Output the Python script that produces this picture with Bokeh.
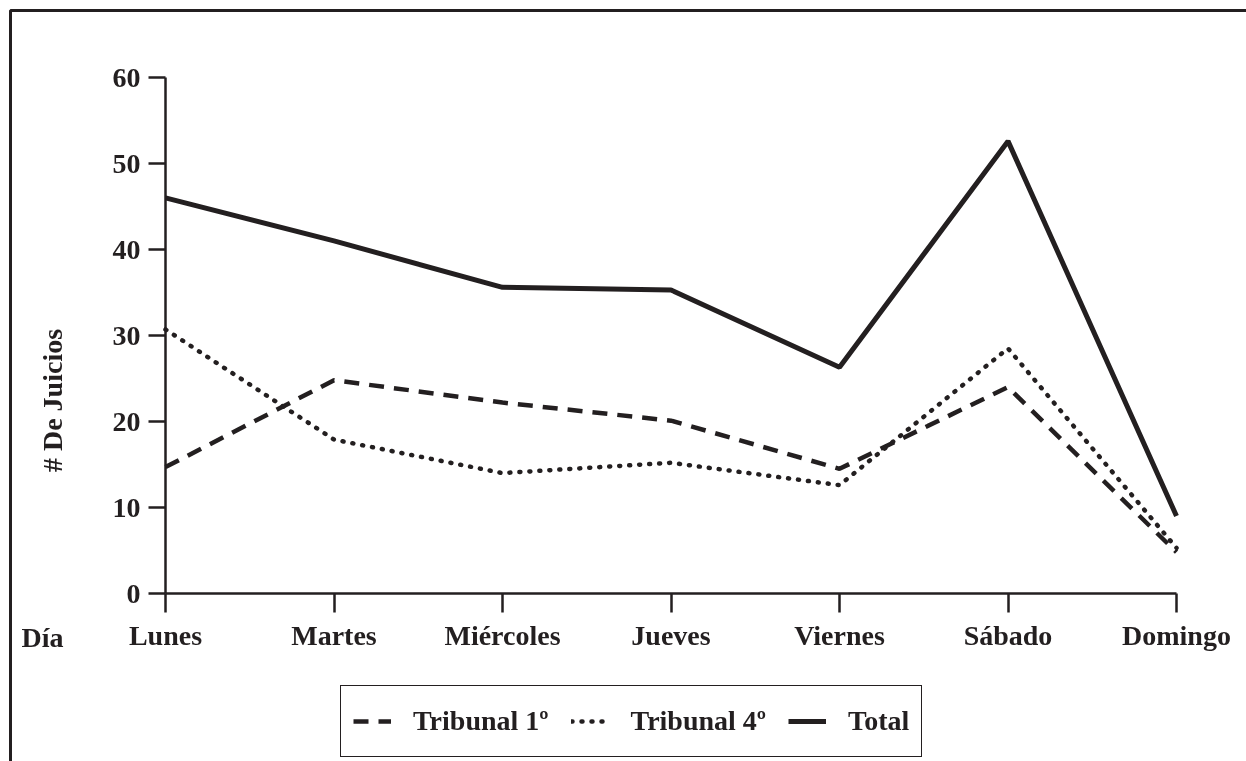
import math
from bokeh.plotting import figure
from bokeh.models import Range1d, FixedTicker, Legend, LegendItem, Label
from bokeh.embed import file_html
from bokeh.resources import INLINE

dias = ["Lunes", "Martes", "Miércoles", "Jueves", "Viernes", "Sábado", "Domingo"]
tribunal_1 = [14.7, 24.8, 22.2, 20.1, 14.5, 24.0, 4.8]
tribunal_4 = [30.7, 17.9, 14.0, 15.2, 12.6, 28.5, 5.3]
total = [46.0, 41.0, 35.6, 35.3, 26.3, 52.6, 9.0]
y_ticks = [0, 10, 20, 30, 40, 50, 60]

INK = "#231f20"
FONT = "Liberation Serif"
FS = "28px"

# ---- layout (page pixels) ----
FRAME_L, FRAME_T, FRAME_R, FRAME_B = 10, 10, 1256, 771   # outer box, right/bottom off-page
X0_PX, X6_PX = 165, 1176      # where day 0 and day 6 sit
Y0_PX, Y60_PX = 593, 77       # where 0 and 60 sit
MB_L, MB_T, MB_B = 100, 40, 100

xs = list(range(len(dias)))
n = len(dias) - 1
ppx = (X6_PX - X0_PX) / n
ppy = (Y0_PX - Y60_PX) / 60.0
x_start = -(X0_PX - FRAME_L) / ppx
x_end = n + (FRAME_R - X6_PX) / ppx
y_start = -(FRAME_B - Y0_PX) / ppy
y_end = 60 + (Y60_PX - FRAME_T) / ppy

FW = FRAME_R - FRAME_L
FH = FRAME_B - FRAME_T

p = figure(width=MB_L + FW, height=MB_T + FH + MB_B, output_backend="svg",
           toolbar_location=None,
           x_range=Range1d(x_start, x_end), y_range=Range1d(y_start, y_end),
           min_border_left=MB_L, min_border_top=MB_T, min_border_right=0,
           min_border_bottom=MB_B)
p.title.visible = False
p.grid.visible = False
p.background_fill_color = "white"
p.border_fill_color = "white"
p.outline_line_color = INK
p.outline_line_width = 3
p.styles = {"position": "fixed", "left": f"{FRAME_L - MB_L}px",
            "top": f"{FRAME_T - MB_T}px"}

r_t1 = p.line(xs, tribunal_1, line_color=INK, line_width=4.5, line_dash="15 10")
r_t4 = p.line(xs, tribunal_4, line_color=INK, line_width=4.5, line_dash="1 9",
              line_cap="round")
r_tot = p.line(xs, total, line_color=INK, line_width=5)

for ax in (p.xaxis[0], p.yaxis[0]):
    ax.axis_line_color = INK
    ax.axis_line_width = 2.5
    ax.major_tick_line_color = INK
    ax.major_tick_line_width = 2.5
    ax.major_tick_in = 0
    ax.minor_tick_line_color = None
    ax.major_label_text_font = FONT
    ax.major_label_text_font_style = "bold"
    ax.major_label_text_font_size = FS
    ax.major_label_text_color = INK

p.xaxis.fixed_location = 0
p.xaxis.bounds = (0, n)
p.xaxis.ticker = FixedTicker(ticks=xs)
p.xaxis.major_label_overrides = {i: d for i, d in enumerate(dias)}
p.xaxis.major_tick_out = 19
p.xaxis.major_label_standoff = 7

p.yaxis.fixed_location = 0
p.yaxis.bounds = (0, 60)
p.yaxis.ticker = FixedTicker(ticks=y_ticks)
p.yaxis.major_tick_out = 17
p.yaxis.major_label_standoff = 8

p.add_layout(Label(x=(42 - X0_PX) / ppx, y=0, y_offset=-28, text="Día",
                   text_font=FONT, text_font_style="bold", text_font_size=FS,
                   text_color=INK, text_align="center", text_baseline="top"))
p.add_layout(Label(x=(52 - X0_PX) / ppx, y=(Y0_PX - 400) / ppy, text="# De Juicios",
                   text_font=FONT, text_font_style="bold", text_font_size=FS,
                   text_color=INK, text_align="center", text_baseline="middle",
                   angle=math.pi / 2))

legend = Legend(items=[LegendItem(label="Tribunal 1º", renderers=[r_t1]),
                       LegendItem(label="Tribunal 4º", renderers=[r_t4]),
                       LegendItem(label="Total", renderers=[r_tot])],
                orientation="horizontal", location=(340 - FRAME_L, FRAME_B - 757),
                glyph_width=38, glyph_height=24, label_height=46,
                label_standoff=22, spacing=22, padding=12, margin=0,
                label_text_font=FONT, label_text_font_style="bold",
                label_text_font_size=FS, label_text_color=INK,
                border_line_color=INK, border_line_width=1.5, border_line_alpha=1,
                background_fill_color="white", background_fill_alpha=1)
p.add_layout(legend)

open("out.html", "w").write(file_html(p, INLINE))
